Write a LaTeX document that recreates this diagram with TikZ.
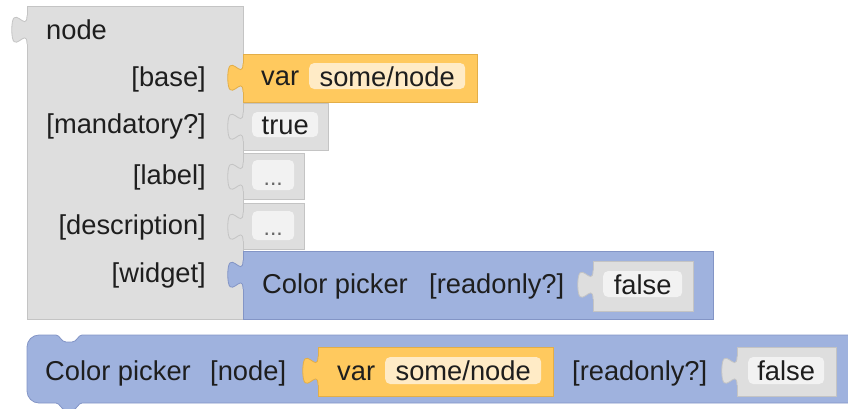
\documentclass[tikz,border=0pt]{standalone}
\usepackage{fontspec}
\setmainfont{Liberation Sans}
\usepackage{tikz}
\usetikzlibrary{positioning}
\definecolor{BlkGray}{HTML}{DEDEDE}
\definecolor{GrayEdge}{HTML}{C4C4C4}
\definecolor{FldGray}{HTML}{F2F2F2}
\definecolor{BlkOrange}{HTML}{FFC95E}
\definecolor{OrangeEdge}{HTML}{E3AE48}
\definecolor{FldOrange}{HTML}{FFEBC6}
\definecolor{BlkBlue}{HTML}{9FB2DE}
\definecolor{BlueEdge}{HTML}{8395C6}
\definecolor{Ink}{HTML}{1E1E1E}

% puzzle tab on the left edge of a block: fill, edge, top left corner
\newcommand{\blktab}[3]{%
  \begin{scope}[shift={#3}]
    \fill[#1] (1.5,9.5) -- (0,9.5)
      .. controls (0,28.5) and (-15.2,-5.7) .. (-15.2,23.75)
      .. controls (-15.2,53.2) and (0,19) .. (0,38) -- (1.5,38) -- cycle;
    \draw[#2,line width=0.8pt] (0,9.5)
      .. controls (0,28.5) and (-15.2,-5.7) .. (-15.2,23.75)
      .. controls (-15.2,53.2) and (0,19) .. (0,38);
  \end{scope}}

\begin{document}
\begin{tikzpicture}[
  x=1pt,y=-1pt,
  font=\fontsize{27.3}{32}\selectfont,
  text=Ink,
  grayblk/.style={fill=BlkGray,draw=GrayEdge,line width=0.8pt},
  orangeblk/.style={fill=BlkOrange,draw=OrangeEdge,line width=0.8pt},
  blueblk/.style={fill=BlkBlue,draw=BlueEdge,line width=0.8pt},
  field/.style={rounded corners=5pt,inner sep=0pt,anchor=west,
    text height=22pt,text depth=2pt},
  grayfld/.style={field,fill=FldGray},
  orangefld/.style={field,fill=FldOrange},
  emptyfld/.style={grayfld,font=\fontsize{23}{26}\selectfont,text=black!60},
  lbl/.style={anchor=base west,inner sep=0pt},
  inlbl/.style={anchor=base east,inner sep=0pt}
]
\useasboundingbox (0,0) rectangle (848,408);

% Node block with its inputs.
\draw[grayblk] (27,6) rectangle (243,319);
\blktab{BlkGray}{GrayEdge}{(27,6)}
\node[lbl] (nodename) at (46,39) {node};
\node[inlbl] (baselbl) at (206,86.5) {[base]};
\node[inlbl] (mandlbl) at (206,133.5) {[mandatory?]};
\node[inlbl] (labellbl) at (206,184.5) {[label]};
\node[inlbl] (desclbl) at (206,234) {[description]};
\node[inlbl] (widgetlbl) at (206,282) {[widget]};

% base: variable block
\draw[orangeblk] (243,54) rectangle (477,102);
\blktab{BlkOrange}{OrangeEdge}{(243,54)}
\node[lbl] (basevar) at (261,85) {var};
\node[orangefld,minimum width=156,minimum height=26] (basefld)
  at (309,76) {some/node};

% mandatory?: boolean block
\draw[grayblk] (243,103) rectangle (328,150);
\blktab{BlkGray}{GrayEdge}{(243,103)}
\node[grayfld,minimum width=66,minimum height=25] (mandfld)
  at (252,124.5) {true};

% label and description: empty text blocks
\draw[grayblk] (243,153) rectangle (304,199);
\blktab{BlkGray}{GrayEdge}{(243,153)}
\node[emptyfld,minimum width=42,minimum height=30] (labelfld)
  at (252,175) {...};
\draw[grayblk] (243,203) rectangle (304,249);
\blktab{BlkGray}{GrayEdge}{(243,203)}
\node[emptyfld,minimum width=42,minimum height=29] (descfld)
  at (252,225.5) {...};

% widget: color picker block
\draw[blueblk] (243,251) rectangle (713,319);
\blktab{BlkBlue}{BlueEdge}{(243,251)}
\node[lbl] (widgetname) at (262,293) {Color picker};
\node[lbl] (widgetro) at (429,293) {[readonly?]};
\draw[grayblk] (593,261) rectangle (693,311);
\blktab{BlkGray}{GrayEdge}{(593,261)}
\node[grayfld,minimum width=79,minimum height=26] (widgetfld)
  at (603,284) {false};

% Stand-alone color picker block.
\filldraw[blueblk] (27,347) .. controls (27,340.4) and (32.4,335) .. (39,335)
  -- (56,335) .. controls (60,335) and (61,342) .. (66,342) -- (72,342)
  .. controls (77,342) and (78,335) .. (82,335) -- (854,335)
  -- (854,403) -- (82,403) .. controls (78,403) and (77,410) .. (72,410)
  -- (66,410) .. controls (61,410) and (60,403) .. (56,403) -- (39,403)
  .. controls (32.4,403) and (27,397.6) .. (27,391) -- cycle;
\node[lbl] (pickername) at (45,380) {Color picker};
\node[lbl] (pickernode) at (210,380) {[node]};
\draw[orangeblk] (318,347) rectangle (553,396);
\blktab{BlkOrange}{OrangeEdge}{(318,347)}
\node[lbl] (pickervar) at (337,380.5) {var};
\node[orangefld,minimum width=156,minimum height=27] (pickerfld)
  at (385,370.5) {some/node};
\node[lbl] (pickerro) at (572,380) {[readonly?]};
\draw[grayblk] (737,347) rectangle (836,396);
\blktab{BlkGray}{GrayEdge}{(737,347)}
\node[grayfld,minimum width=76,minimum height=27] (pickerrofld)
  at (748,370.5) {false};
\end{tikzpicture}
\end{document}
